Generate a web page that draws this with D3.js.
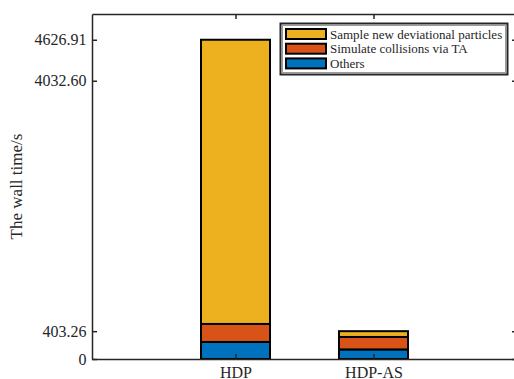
<!DOCTYPE html>
<html>
<head>
<meta charset="utf-8">
<script src="https://cdn.jsdelivr.net/npm/d3@7"></script>
<style>
  html, body { margin: 0; padding: 0; background: #fff; overflow: hidden; }
  svg { display: block; }
  svg text { font-family: "Liberation Serif", serif; fill: #262626; }
</style>
</head>
<body>
<svg id="chart" width="514" height="379"></svg>
<script>
// Wall-time breakdown per method (seconds)
const categories = ["HDP", "HDP-AS"];
const seriesNames = ["Others", "Simulate collisions via TA", "Sample new deviational particles"];
const others     = [247, 139];
const collisions = [261, 180.26];
const sampling   = [4118.91, 84];
const yTickValues = [0, 403.26, 4032.60, 4626.91];
const yTickLabels = ["0", "403.26", "4032.60", "4626.91"];
const yMax = 5000;
const colors = ["#0072BD", "#D95319", "#EDB120"];

const svg = d3.select("#chart");
const frame = { left: 92, right: 517, top: 14, bottom: 359 };
const axisColor = "#262626";
const fontFamily = '"Liberation Serif", serif';

const rows = categories.map((c, i) => ({
  cat: c,
  [seriesNames[0]]: others[i],
  [seriesNames[1]]: collisions[i],
  [seriesNames[2]]: sampling[i]
}));
const stack = d3.stack().keys(seriesNames)(rows);

const x = d3.scalePoint().domain(categories).range([frame.left, frame.right]).padding(1.04);
const y = d3.scaleLinear().domain([0, yMax]).range([frame.bottom, frame.top]);
const barW = x.step() * 0.5;

// Stacked bars
svg.append("g").selectAll("g").data(stack).join("g")
  .attr("fill", (d, i) => colors[i])
  .selectAll("rect").data(d => d).join("rect")
  .attr("x", d => x(d.data.cat) - barW / 2)
  .attr("width", barW)
  .attr("y", d => y(d[1]))
  .attr("height", d => y(d[0]) - y(d[1]))
  .attr("stroke", "#000")
  .attr("stroke-width", 2);

// Axes with inward ticks on all four sides
const tickLen = 5;
const axisL = d3.axisLeft(y).tickValues(yTickValues).tickFormat((d, i) => yTickLabels[i])
  .tickSizeInner(-tickLen).tickSizeOuter(0).tickPadding(6);
const axisR = d3.axisRight(y).tickValues(yTickValues).tickFormat("")
  .tickSizeInner(-tickLen).tickSizeOuter(0);
const axisB = d3.axisBottom(x).tickSizeInner(-tickLen).tickSizeOuter(0).tickPadding(8);
const axisT = d3.axisTop(x).tickFormat("").tickSizeInner(-tickLen).tickSizeOuter(0);

function style(g) {
  g.attr("font-family", null);
  g.selectAll("path, line").attr("stroke", axisColor).attr("stroke-width", 1.5);
  g.selectAll("text").attr("fill", axisColor).style("font-family", fontFamily);
}

svg.append("g").attr("transform", `translate(${frame.left},0)`).call(axisL).call(style)
  .selectAll("text").attr("font-size", 16).attr("x", -5.5);
svg.append("g").attr("transform", `translate(${frame.right},0)`).call(axisR).call(style);
svg.append("g").attr("transform", `translate(0,${frame.bottom})`).call(axisB).call(style)
  .selectAll("text").attr("font-size", 16);
svg.append("g").attr("transform", `translate(0,${frame.top})`).call(axisT).call(style);

// Y-axis title
svg.append("text")
  .attr("transform", `translate(22,${(frame.top + frame.bottom) / 2}) rotate(-90)`)
  .attr("text-anchor", "middle")
  .attr("font-size", 17)
  .style("font-family", fontFamily)
  .text("The wall time/s");

// Legend (top entry first)
const legend = svg.append("g");
legend.append("rect").attr("x", 280.5).attr("y", 23.5).attr("width", 227).attr("height", 51)
  .attr("fill", "#fff").attr("stroke", axisColor).attr("stroke-width", 2);
legend.append("rect").attr("x", 282.5).attr("y", 25.5).attr("width", 223).attr("height", 47)
  .attr("fill", "none").attr("stroke", "#9a9a9a").attr("stroke-width", 1);
const legendItems = seriesNames.map((n, i) => ({ name: n, color: colors[i] })).reverse();
const items = legend.selectAll("g.item").data(legendItems).join("g")
  .attr("class", "item")
  .attr("transform", (d, i) => `translate(0,${29 + i * 14.7})`);
items.append("rect").attr("x", 286).attr("y", 0).attr("width", 40).attr("height", 10)
  .attr("fill", d => d.color).attr("stroke", "#000").attr("stroke-width", 2);
items.append("text").attr("x", 330).attr("y", 5).attr("dy", "0.35em")
  .attr("font-size", 13).attr("fill", "#000")
  .style("font-family", fontFamily).text(d => d.name);
</script>
</body>
</html>
